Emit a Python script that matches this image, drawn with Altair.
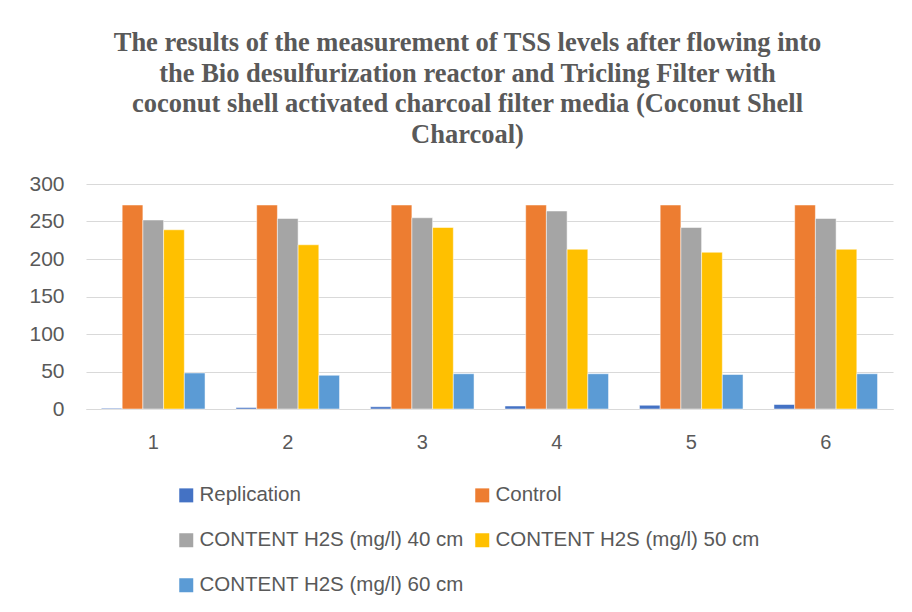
import altair as alt
import pandas as pd

categories = ["1", "2", "3", "4", "5", "6"]
series = ["Replication", "Control", "CONTENT H2S (mg/l) 40 cm",
          "CONTENT H2S (mg/l) 50 cm", "CONTENT H2S (mg/l) 60 cm"]
replication = [1, 2, 3, 4, 5, 6]
control = [272, 272, 272, 272, 272, 272]
h2s_40 = [252, 254, 255, 264, 242, 254]
h2s_50 = [239, 219, 242, 213, 209, 213]
h2s_60 = [48, 45, 47, 47, 46, 47]
colors = ["#4472C4", "#ED7D31", "#A5A5A5", "#FFC000", "#5B9BD5"]

rows = []
for s, vals in zip(series, [replication, control, h2s_40, h2s_50, h2s_60]):
    for c, v in zip(categories, vals):
        rows.append({"cat": c, "series": s, "value": v})
df = pd.DataFrame(rows)

title_lines = [
    "The results of the measurement of TSS levels after flowing into",
    "the Bio desulfurization reactor and Tricling Filter with",
    "coconut shell activated charcoal filter media (Coconut Shell",
    "Charcoal)",
]

chart = alt.Chart(df).mark_bar(stroke="white", strokeWidth=0.5).encode(
    x=alt.X("cat:N", sort=categories, title=None,
            scale=alt.Scale(paddingInner=0.23, paddingOuter=0.115),
            axis=alt.Axis(labelAngle=0, ticks=False, domain=True, domainColor="#d9d9d9",
                          labelFontSize=20, labelColor="#595959", labelPadding=23,
                          labelFont="Liberation Sans")),
    xOffset=alt.XOffset("series:N", sort=series),
    y=alt.Y("value:Q", title=None,
            scale=alt.Scale(domain=[0, 300]),
            axis=alt.Axis(values=[0, 50, 100, 150, 200, 250, 300], ticks=False, domain=False,
                          gridColor="#d9d9d9", gridWidth=1.2,
                          labelFontSize=21, labelColor="#595959", labelPadding=22,
                          labelFont="Liberation Sans")),
    color=alt.Color("series:N", sort=series,
                    scale=alt.Scale(domain=series, range=colors),
                    legend=alt.Legend(title=None, orient="none", legendX=90, legendY=301,
                                      direction="horizontal",
                                      columns=2, columnPadding=8, rowPadding=24,
                                      symbolType="square", symbolSize=196,
                                      symbolStrokeWidth=0, labelOffset=3,
                                      labelFontSize=20.5, labelColor="#595959",
                                      labelFont="Liberation Sans", labelLimit=400)),
).properties(
    width=807,
    height=225,
    title=alt.TitleParams(text=title_lines, font="Liberation Serif", fontSize=26.5,
                          fontWeight="bold", color="#595959", lineHeight=30.5,
                          anchor="middle", dx=-22, offset=25),
    autosize=alt.AutoSizeParams(type="none"),
    padding={"left": 78, "top": 176, "right": 11, "bottom": 195},
).configure_view(stroke=None)

chart.save("out.html", embed_options={"renderer": "svg", "actions": False})
